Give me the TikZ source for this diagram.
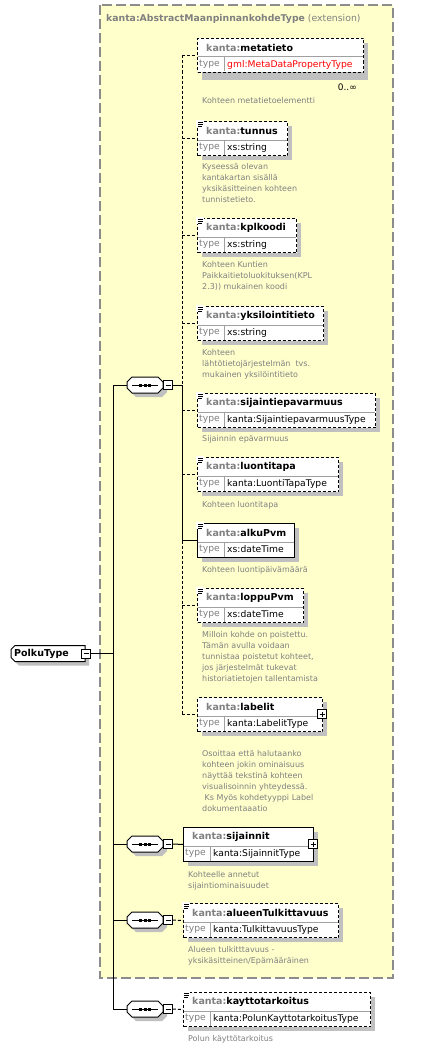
\documentclass[tikz,border=0pt]{standalone}
\usepackage{fontspec}
\setmainfont{DejaVu Sans}
\definecolor{ybg}{HTML}{FFFFCC}
\definecolor{extc}{HTML}{8C8C8C}
\definecolor{shadowc}{HTML}{C0C0C0}
\definecolor{kgray}{HTML}{808080}
\definecolor{divc}{HTML}{A0A0A0}
\definecolor{tred}{HTML}{FF0000}
\tikzset{
  reqline/.style={draw=black, line width=1pt},
  optline/.style={draw=black, line width=1pt, dash pattern=on 3pt off 2pt},
  elembox/.style={draw=black, fill=white, inner sep=0pt, minimum height=34pt, line width=1pt},
  optbox/.style={dash pattern=on 3pt off 2pt},
  reqbox/.style={solid},
  divline/.style={draw=divc, line width=1pt},
  nametext/.style={anchor=west, inner sep=0pt, font=\fontsize{9.5}{11}\selectfont\bfseries},
  typelabel/.style={anchor=west, inner sep=0pt, text=kgray, font=\fontsize{9.2}{11}\selectfont},
  typetext/.style={anchor=west, inner sep=0pt, font=\fontsize{9.2}{11}\selectfont},
  desc/.style={anchor=north west, inner sep=0pt, align=left, text=kgray, font=\fontsize{8}{11}\selectfont},
  pmbox/.style={draw=black, fill=white, inner sep=0pt, minimum size=9pt, line width=0.9pt},
  hidden/.style={inner sep=0pt},
}
% element: id, x1, y1, x2, style, name, type, typecolor, icon
\newcommand\xelem[9]{%
  \fill[shadowc] (#2+5,#3+5) rectangle (#4+5,#3+39);
  \node[elembox,#5,minimum width={#4-#2},anchor=north west] (#1) at (#2,#3) {};
  \draw[divline] (#2+0.5,#3+19) -- (#4-0.5,#3+19);
  \draw[divline] (#2+27,#3+19) -- (#2+27,#3+33.5);
  \node[nametext] (#1n) at (#2+9,#3+10) {\textcolor{kgray}{kanta:}#6};
  \node[typelabel] (#1l) at (#2+2,#3+26.5) {type};
  \node[typetext,text=#8] (#1t) at (#2+30,#3+26.5) {#7};
  \ifnum#9=1
    \fill[white] (#2-0.6,#3-0.6) rectangle (#2+6.5,#3+6);
    \draw[line width=0.8pt] (#2+1,#3+1) -- (#2+6,#3+1);
    \draw[line width=0.8pt] (#2+1,#3+3) -- (#2+6,#3+3);
    \draw[line width=0.8pt] (#2+1,#3+5) -- (#2+5,#3+5);
  \fi
}
% sequence compositor: id, x, y
\newcommand\xseq[3]{%
  \node[hidden, minimum width=36pt, minimum height=16pt] (#1) at (#2,#3) {};
  \fill[shadowc, shift={(4,4)}] (#2-13,#3-8) -- (#2+13,#3-8) -- (#2+18,#3-3) -- (#2+18,#3+3) -- (#2+13,#3+8) -- (#2-13,#3+8) -- (#2-18,#3+3) -- (#2-18,#3-3) -- cycle;
  \draw[fill=white, line width=1pt] (#2-13,#3-8) -- (#2+13,#3-8) -- (#2+18,#3-3) -- (#2+18,#3+3) -- (#2+13,#3+8) -- (#2-13,#3+8) -- (#2-18,#3+3) -- (#2-18,#3-3) -- cycle;
  \draw[line width=1pt] (#2-13,#3) -- (#2+13,#3);
  \fill (#2-6,#3-1.5) rectangle (#2-3,#3+1.5);
  \fill (#2-1.5,#3-1.5) rectangle (#2+1.5,#3+1.5);
  \fill (#2+3,#3-1.5) rectangle (#2+6,#3+1.5);
  \node[pmbox] (#1m) at (#2+23,#3) {};
  \draw[line width=0.9pt] (#2+20.5,#3) -- (#2+25.5,#3);
}
\newcommand\xplus[3]{%
  \node[pmbox] (#1) at (#2,#3) {};
  \draw[line width=0.9pt] (#2-2.5,#3) -- (#2+2.5,#3);
  \draw[line width=0.9pt] (#2,#3-2.5) -- (#2,#3+2.5);
}
\begin{document}
\begin{tikzpicture}[x=1pt,y=-1pt]
\useasboundingbox (0,0) rectangle (422,1049);
\fill[white] (0,0) rectangle (422,1049);
% extension box
\draw[draw=extc, fill=ybg, line width=1.2pt, dash pattern=on 10pt off 4pt] (100,5) rectangle (393,978);
\node[anchor=west, inner sep=0pt, text=kgray, font=\fontsize{9.3}{11}\selectfont] (ext) at (106,19) {\textbf{kanta:AbstractMaanpinnankohdeType} (extension)};
% root
\node[hidden, minimum width=74pt, minimum height=16pt] (root) at (48,653.5) {};
\fill[shadowc, shift={(4,4)}] (15,645.5) -- (85,645.5) -- (85,661.5) -- (15,661.5) -- (11,657.5) -- (11,649.5) -- cycle;
\draw[fill=white, line width=1pt] (15,645.5) -- (85,645.5) -- (85,661.5) -- (15,661.5) -- (11,657.5) -- (11,649.5) -- cycle;
\node[anchor=west, inner sep=0pt, font=\fontsize{9.5}{11}\selectfont\bfseries] (rootlabel) at (14,653.5) {PolkuType};
\node[pmbox] (rootm) at (86,653.5) {};
\draw[line width=0.9pt] (83.5,653.5) -- (88.5,653.5);
% compositors
\xseq{seqA}{145}{385}
\xseq{seqB}{145}{844}
\xseq{seqC}{145}{920}
\xseq{seqD}{145}{1009}
% elements
\fill[shadowc] (202,43) rectangle (368,80);
\xelem{metatieto}{197}{38}{363}{optbox}{metatieto}{gml:MetaDataPropertyType}{tred}{0}
\node[anchor=east, inner sep=0pt, font=\fontsize{9}{11}\selectfont] (mult) at (357,87) {0..∞};
\xelem{tunnus}{197}{121}{287}{optbox}{tunnus}{xs:string}{black}{1}
\xelem{kplkoodi}{197}{218}{296}{optbox}{kplkoodi}{xs:string}{black}{1}
\xelem{yksilointitieto}{197}{306}{323}{optbox}{yksilointitieto}{xs:string}{black}{1}
\xelem{sijaintiepavarmuus}{197}{393}{375}{optbox}{sijaintiepavarmuus}{kanta:SijaintiepavarmuusType}{black}{1}
\xelem{luontitapa}{197}{457}{338}{optbox}{luontitapa}{kanta:LuontiTapaType}{black}{1}
\xelem{alkuPvm}{197}{523}{294}{reqbox}{alkuPvm}{xs:dateTime}{black}{1}
\xelem{loppuPvm}{197}{588}{303}{optbox}{loppuPvm}{xs:dateTime}{black}{1}
\xelem{labelit}{197}{697}{322}{optbox}{labelit}{kanta:LabelitType}{black}{0}
\xplus{labelitp}{322}{714}
\xelem{sijainnit}{183}{827}{313}{reqbox}{sijainnit}{kanta:SijainnitType}{black}{0}
\xplus{sijainnitp}{313}{844}
\xelem{alueen}{183}{903}{338}{optbox}{alueenTulkittavuus}{kanta:TulkittavuusType}{black}{1}
\xelem{kaytto}{183}{992}{370}{optbox}{kayttotarkoitus}{kanta:PolunKayttotarkoitusType}{black}{1}
% descriptions
\node[desc] (d1) at (202,97) {Kohteen metatietoelementti};
\node[desc] (d2) at (202,163) {Kyseessä olevan\\kantakartan sisällä\\yksikäsitteinen kohteen\\tunnistetieto.};
\node[desc] (d3) at (202,261) {Kohteen Kuntien\\Paikkaitietoluokituksen(KPL\\2.3)) mukainen koodi};
\node[desc] (d4) at (202,349) {Kohteen\\lähtötietojärjestelmän\ \ tvs.\\mukainen yksilöintitieto};
\node[desc] (d5) at (202,435) {Sijainnin epävarmuus};
\node[desc] (d6) at (202,501) {Kohteen luontitapa};
\node[desc] (d7) at (202,566) {Kohteen luontipäivämäärä};
\node[desc] (d8) at (202,631) {Milloin kohde on poistettu.\\Tämän avulla voidaan\\tunnistaa poistetut kohteet,\\jos järjestelmät tukevat\\historiatietojen tallentamista};
\node[desc] (d9) at (202,750) {Osoittaa että halutaanko\\kohteen jokin ominaisuus\\näyttää tekstinä kohteen\\visualisoinnin yhteydessä.\\\hspace*{2.5pt}Ks Myös kohdetyyppi Label\\dokumentaaatio};
\node[desc] (d10) at (188,871) {Kohteelle annetut\\sijaintiominaisuudet};
\node[desc] (d11) at (188,946) {Alueen tulkitttavuus -\\yksikäsitteinen/Epämääräinen};
\node[desc] (d12) at (188,1035) {Polun käyttötarkoitus};
% connectors
\coordinate (tr) at (113,653.5);
\coordinate (jA) at (182,385);
\draw[reqline] (rootm.east) -- (tr);
\draw[reqline] (seqA.west -| tr) -- (seqD.west -| tr);
\foreach \s in {seqA,seqB,seqC,seqD} \draw[reqline] (\s.west -| tr) -- (\s.west);
\draw[reqline] (seqAm.east) -- (jA);
\draw[optline] (metatieto.west -| jA) -- (jA);
\draw[reqline] (jA) -- (alkuPvm.west -| jA);
\draw[optline] (alkuPvm.west -| jA) -- (labelit.west -| jA);
\foreach \e in {metatieto,tunnus,kplkoodi,yksilointitieto,sijaintiepavarmuus,luontitapa,loppuPvm,labelit}
  \draw[optline] (\e.west -| jA) -- (\e.west);
\draw[reqline] (alkuPvm.west -| jA) -- (alkuPvm.west);
\draw[reqline] (seqBm.east) -- (sijainnit.west);
\draw[optline] (seqCm.east) -- (alueen.west);
\draw[optline] (seqDm.east) -- (kaytto.west);
\end{tikzpicture}
\end{document}
